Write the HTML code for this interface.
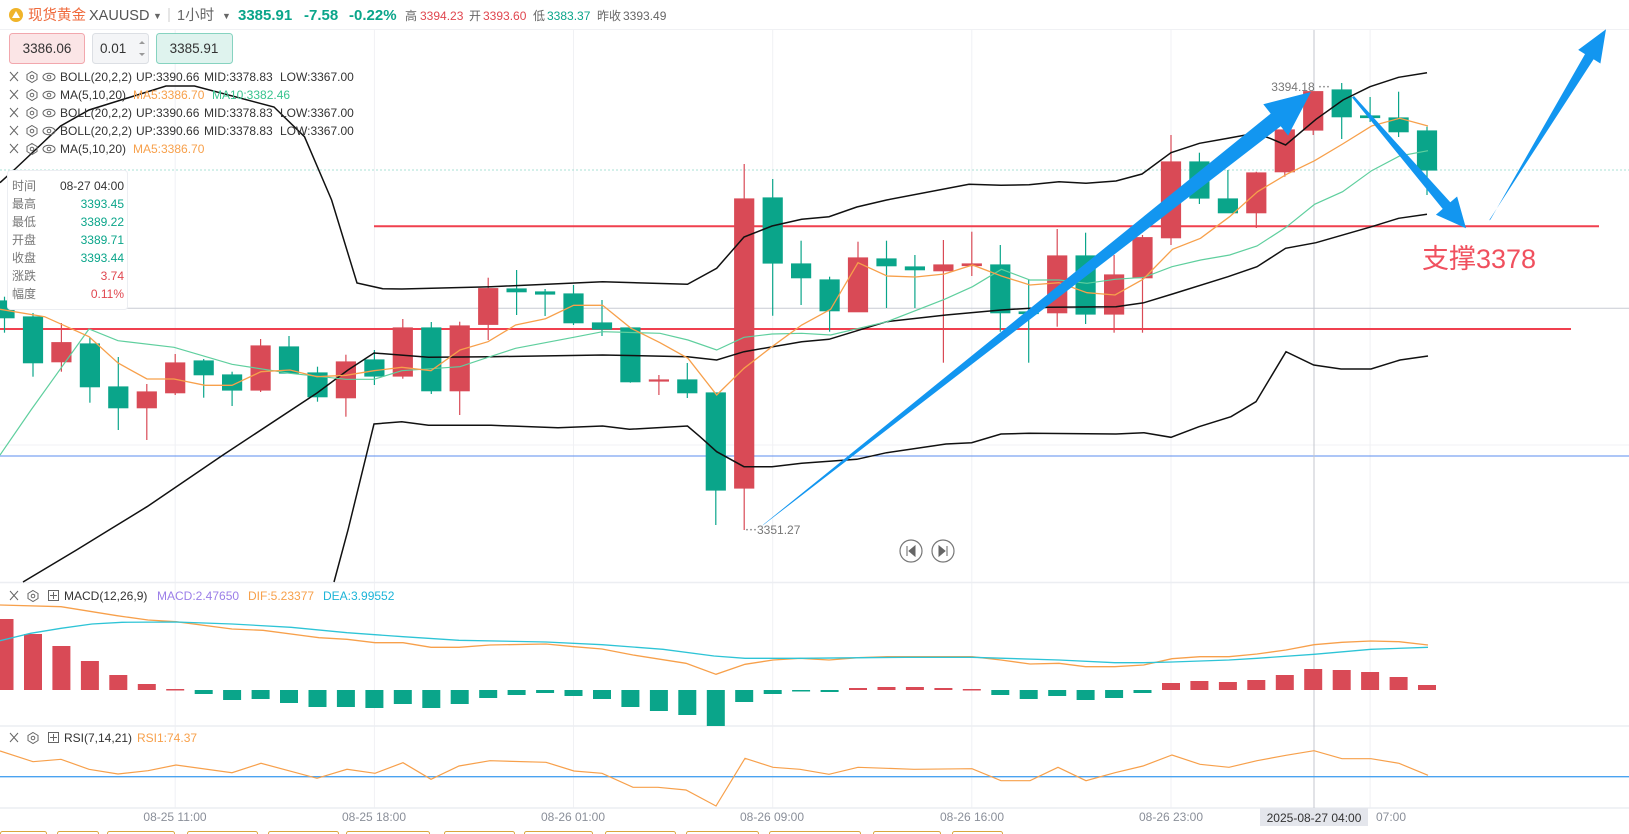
<!DOCTYPE html>
<html><head><meta charset="utf-8"><style>
html,body{margin:0;padding:0;background:#fff;overflow:hidden}
svg{display:block;font-family:"Liberation Sans","Noto Sans CJK SC",sans-serif}
</style></head><body>
<svg width="1629" height="834" viewBox="0 0 1629 834" xmlns="http://www.w3.org/2000/svg">
<rect width="1629" height="834" fill="#fff"/>
<line x1="0" y1="29.5" x2="1629" y2="29.5" stroke="#f0f1f4"/>
<circle cx="16" cy="15" r="7" fill="#f0b429"/>
<path d="M12 18 L16 11 L20 18 Z" fill="#fff"/>
<text x="28" y="20" font-size="14.5" fill="#ef6a3c">现货黄金</text>
<text x="89" y="20" font-size="14.5" fill="#555">XAUUSD</text>
<text x="153" y="19" font-size="9" fill="#666">▼</text>
<line x1="169" y1="8" x2="169" y2="22" stroke="#ccc"/>
<text x="177" y="20" font-size="14.5" fill="#666">1小时</text>
<text x="222" y="19" font-size="9" fill="#666">▼</text>
<text x="238" y="20" font-size="15" font-weight="bold" fill="#0aa58a">3385.91</text>
<text x="304" y="20" font-size="15" font-weight="bold" fill="#0aa58a">-7.58</text>
<text x="349" y="20" font-size="15" font-weight="bold" fill="#0aa58a">-0.22%</text>
<text x="405" y="20" font-size="12" fill="#666">高</text>
<text x="420" y="20" font-size="12" fill="#e0464f">3394.23</text>
<text x="469" y="20" font-size="12" fill="#666">开</text>
<text x="483" y="20" font-size="12" fill="#e0464f">3393.60</text>
<text x="533" y="20" font-size="12" fill="#666">低</text>
<text x="547" y="20" font-size="12" fill="#0aa58a">3383.37</text>
<text x="597" y="20" font-size="12" fill="#666">昨收</text>
<text x="623" y="20" font-size="12" fill="#666">3393.49</text>
<g stroke="#f0f1f4" stroke-width="1">
<line x1="175.2" y1="30" x2="175.2" y2="808"/><line x1="374.4" y1="30" x2="374.4" y2="808"/>
<line x1="573.5" y1="30" x2="573.5" y2="808"/><line x1="772.7" y1="30" x2="772.7" y2="808"/>
<line x1="971.8" y1="30" x2="971.8" y2="808"/><line x1="1171" y1="30" x2="1171" y2="808"/>
<line x1="1370.1" y1="30" x2="1370.1" y2="808"/>
<line x1="0" y1="445" x2="1629" y2="445"/>
</g>
<line x1="0" y1="582.5" x2="1629" y2="582.5" stroke="#eceef2" stroke-width="1.5"/>
<line x1="0" y1="726" x2="1629" y2="726" stroke="#eceef2" stroke-width="1.5"/>
<line x1="0" y1="808" x2="1629" y2="808" stroke="#eceef2" stroke-width="1.5"/>
<line x1="0" y1="170" x2="1629" y2="170" stroke="#a9e0d6" stroke-dasharray="2,2"/>
<line x1="0" y1="308.3" x2="1629" y2="308.3" stroke="#c8ccd4"/>
<line x1="0" y1="456" x2="1629" y2="456" stroke="#5b8def"/>
<line x1="1314" y1="30" x2="1314" y2="808" stroke="#c4c7cf"/>
<line x1="374" y1="226.3" x2="1599" y2="226.3" stroke="#f0404f" stroke-width="2"/>
<line x1="0" y1="329" x2="1571" y2="329" stroke="#f0404f" stroke-width="2"/>
<g stroke-width="1.2">
<g fill="#0aa58a" stroke="#0aa58a">
<line x1="4.5" y1="296.7" x2="4.5" y2="332.7"/><rect x="-5" y="301" width="19" height="16.7"/>
<line x1="33" y1="313" x2="33" y2="376.7"/><rect x="23.5" y="317" width="19" height="45.7"/>
<line x1="89.9" y1="337" x2="89.9" y2="402.7"/><rect x="80.4" y="344" width="19" height="42.7"/>
<line x1="118.3" y1="357" x2="118.3" y2="430"/><rect x="108.8" y="387" width="19" height="20.7"/>
<line x1="203.7" y1="359" x2="203.7" y2="397.7"/><rect x="194.2" y="361" width="19" height="13.7"/>
<line x1="232.1" y1="371.7" x2="232.1" y2="406"/><rect x="222.6" y="375" width="19" height="15"/>
<line x1="289" y1="336" x2="289" y2="373"/><rect x="279.5" y="347" width="19" height="26"/>
<line x1="317.5" y1="366.7" x2="317.5" y2="401.7"/><rect x="308" y="373" width="19" height="23.7"/>
<line x1="374.4" y1="350" x2="374.4" y2="385"/><rect x="364.9" y="360" width="19" height="16"/>
<line x1="431.3" y1="322" x2="431.3" y2="394"/><rect x="421.8" y="328" width="19" height="62.7"/>
<line x1="516.6" y1="270" x2="516.6" y2="315"/><rect x="507.1" y="289" width="19" height="2.7"/>
<line x1="545.1" y1="289" x2="545.1" y2="316"/><rect x="535.6" y="292" width="19" height="2"/>
<line x1="573.5" y1="285" x2="573.5" y2="325"/><rect x="564" y="294" width="19" height="28.7"/>
<line x1="602" y1="300" x2="602" y2="336"/><rect x="592.5" y="323" width="19" height="6"/>
<line x1="630.4" y1="328" x2="630.4" y2="382.7"/><rect x="620.9" y="328" width="19" height="53.7"/>
<line x1="687.3" y1="363" x2="687.3" y2="398"/><rect x="677.8" y="380" width="19" height="12.7"/>
<line x1="715.8" y1="393" x2="715.8" y2="525"/><rect x="706.3" y="393" width="19" height="97"/>
<line x1="772.7" y1="179" x2="772.7" y2="315.7"/><rect x="763.2" y="198" width="19" height="65"/>
<line x1="801.1" y1="240.7" x2="801.1" y2="305"/><rect x="791.6" y="264" width="19" height="13.7"/>
<line x1="829.6" y1="276.7" x2="829.6" y2="331.7"/><rect x="820.1" y="280" width="19" height="30.7"/>
<line x1="886.5" y1="240.7" x2="886.5" y2="308"/><rect x="877" y="259" width="19" height="6.7"/>
<line x1="914.9" y1="255" x2="914.9" y2="308"/><rect x="905.4" y="267" width="19" height="2.7"/>
<line x1="1000.3" y1="245" x2="1000.3" y2="331.7"/><rect x="990.8" y="265" width="19" height="47.7"/>
<line x1="1028.7" y1="280" x2="1028.7" y2="362.7"/><rect x="1019.2" y="312" width="19" height="1.5"/>
<line x1="1085.6" y1="232.7" x2="1085.6" y2="324"/><rect x="1076.1" y="256" width="19" height="58"/>
<line x1="1199.4" y1="152.7" x2="1199.4" y2="204"/><rect x="1189.9" y="162" width="19" height="36"/>
<line x1="1227.9" y1="170" x2="1227.9" y2="213"/><rect x="1218.4" y="199" width="19" height="13.7"/>
<line x1="1341.7" y1="83" x2="1341.7" y2="139"/><rect x="1332.2" y="90" width="19" height="26.7"/>
<line x1="1370.1" y1="97" x2="1370.1" y2="122"/><rect x="1360.6" y="116" width="19" height="1.5"/>
<line x1="1398.6" y1="91.7" x2="1398.6" y2="137"/><rect x="1389.1" y="118" width="19" height="13.7"/>
<line x1="1427" y1="126.7" x2="1427" y2="195"/><rect x="1417.5" y="131" width="19" height="39"/>
</g>
<g fill="#d94a56" stroke="#d94a56">
<line x1="61.4" y1="323" x2="61.4" y2="371.7"/><rect x="51.9" y="342.7" width="19" height="19"/>
<line x1="146.8" y1="384" x2="146.8" y2="440"/><rect x="137.3" y="392" width="19" height="15.7"/>
<line x1="175.2" y1="354" x2="175.2" y2="395"/><rect x="165.7" y="363" width="19" height="29.7"/>
<line x1="260.6" y1="339" x2="260.6" y2="392"/><rect x="251.1" y="346" width="19" height="44"/>
<line x1="345.9" y1="354.7" x2="345.9" y2="416.7"/><rect x="336.4" y="362" width="19" height="35.7"/>
<line x1="402.8" y1="319" x2="402.8" y2="378.7"/><rect x="393.3" y="328" width="19" height="48"/>
<line x1="459.7" y1="321.7" x2="459.7" y2="415"/><rect x="450.2" y="326" width="19" height="64.7"/>
<line x1="488.2" y1="277.7" x2="488.2" y2="340"/><rect x="478.7" y="288.7" width="19" height="35.6"/>
<line x1="658.9" y1="375" x2="658.9" y2="395"/><rect x="649.4" y="380" width="19" height="1"/>
<line x1="744.2" y1="164" x2="744.2" y2="530"/><rect x="734.7" y="199" width="19" height="289"/>
<line x1="858" y1="241.7" x2="858" y2="311.7"/><rect x="848.5" y="258" width="19" height="53.7"/>
<line x1="943.4" y1="240" x2="943.4" y2="362.7"/><rect x="933.9" y="265" width="19" height="5.7"/>
<line x1="971.8" y1="231.7" x2="971.8" y2="276"/><rect x="962.3" y="264" width="19" height="1.5"/>
<line x1="1057.2" y1="229" x2="1057.2" y2="326.7"/><rect x="1047.7" y="256" width="19" height="56.7"/>
<line x1="1114.1" y1="255" x2="1114.1" y2="332.7"/><rect x="1104.6" y="275" width="19" height="39"/>
<line x1="1142.5" y1="235" x2="1142.5" y2="332.7"/><rect x="1133" y="237.7" width="19" height="40"/>
<line x1="1171" y1="135" x2="1171" y2="245"/><rect x="1161.5" y="162" width="19" height="75.7"/>
<line x1="1256.3" y1="171.7" x2="1256.3" y2="228"/><rect x="1246.8" y="173" width="19" height="39.7"/>
<line x1="1284.8" y1="123" x2="1284.8" y2="176.7"/><rect x="1275.3" y="130" width="19" height="41.7"/>
<line x1="1313.2" y1="91.7" x2="1313.2" y2="135"/><rect x="1303.7" y="91.7" width="19" height="38.3"/>
</g>
</g>
<g fill="none" stroke="#111" stroke-width="1.5">
<polyline points="0,182.7 14,170 60.6,126 89,110 166,86 194.5,86 274,107 304.5,136.7 331.6,200 357,283 382.7,288.7 401.8,289 491,286.7 602.6,281.7 687.5,284.3 716.7,268.3 744,237 772,226 801.7,219.3 829,216.7 856.8,207 886.6,200 969,184.3 1001,185.3 1029,184.7 1059,181.7 1086,183.3 1116,181 1142,174 1171,152.7 1199.5,143.3 1228,138.3 1255,133.3 1270,138.3 1285.6,145 1316,119.3 1343,100 1370,86.7 1398.6,77.3 1427,72.7"/>
<polyline points="23,582 76.5,550 109,530 147,506.7 223,455 317,393 348,370 374,353 428.5,357.3 491,356.7 602.6,355 687.5,356.7 716.7,360 744,351.7 801.7,341.7 829,339.3 886.6,321.7 946,315 1001,310 1047,307.3 1116,306.7 1144,302.7 1172.5,294 1228,276.7 1257,266.7 1285.6,248.3 1316,242.7 1371.6,226.7 1398.6,218.3 1427,214.3"/>
<polyline points="334,582 348,530 374,424 401.8,421.7 428.5,425.3 491,425.3 558,427.7 602.6,426 629.4,429.3 687.5,426 700,436.7 716.7,451.7 744,466.7 772,466.7 801.7,463.3 856.8,459.3 886.6,452.7 946,444 971.6,442.7 1001,434 1029,433.3 1116,434 1144,432.7 1171,437.3 1199,426.7 1231,416.7 1256,401.7 1286,351.7 1313.7,365 1341,369 1371,369 1400,360 1428,356"/>
</g>
<polyline fill="none" stroke="#5fcf9e" stroke-width="1.2" points="0,455 31,410 89,329 118,340.7 174,347.3 232,364.3 290,373.3 346,379.3 374,379.3 401.8,370.7 460,366.7 488,357.3 515.6,348.3 573.6,337.3 602.6,331.7 660,333.3 688,340 716.7,350 744,337.3 772,334 801.7,333.3 830.6,335 887,321.7 944.5,299.3 972.5,286.7 1001.4,269.3 1030,280 1059,280 1087,283.3 1115,279.3 1144,277.3 1172,266.7 1200.7,260 1229.7,255 1257,246 1286,227.3 1314.6,204.3 1342.6,191.7 1371.6,170.7 1399.6,156 1428,150.7"/>
<polyline fill="none" stroke="#f7a04b" stroke-width="1.3" points="0,309.3 44.6,316.7 89,336.7 118,363 147,379 174,379 205,385.3 232,385.3 261,371.7 290,370 317,376.7 346,375.3 374,370.7 401.8,367.3 431,370.7 460,350 488,341.7 515.6,325 545.5,318.7 573.6,305.3 602.6,305.3 631,328.3 660,342.7 688,358.3 716.7,395 744,368.3 772,346.7 801.7,325 830.6,309.3 858,262.7 887,276 915.6,277 944.5,274 972.5,265 1001.4,276 1030,285 1059,282.7 1087,292.7 1115,295 1143,279.3 1172.5,249.3 1200.5,238.3 1229.6,216.7 1257.6,191.7 1286.6,174.3 1314.6,160.7 1342.6,144 1371.6,126 1399.6,118.3 1428,126"/>
<g fill="#1296f0">
<polygon points="762,526 764,524 1270.7,113.6 1263.3,104.2 1311,92 1288.1,135.6 1280.7,126.2"/>
<polygon points="1352,97.5 1354,96 1450.3,202.3 1457.1,196.5 1466,228.3 1435.9,214.7 1442.7,208.9"/>
<polygon points="1489,220.5 1490.5,219.5 1585,54.1 1578.2,49.9 1606,29.3 1600.4,63.5 1593.6,59.3"/>
</g>
<text x="1422" y="268" font-size="27" fill="#f0505e">支撑3378</text>
<text x="1330" y="91" font-size="12" fill="#777" text-anchor="end">3394.18 ⋯</text>
<text x="745" y="534" font-size="12" fill="#777">⋯3351.27</text>
<g fill="#fff" stroke="#777" stroke-width="1.2">
<circle cx="911" cy="551" r="11"/><circle cx="943" cy="551" r="11"/>
</g>
<path d="M907 546v10M915 546l-6 5 6 5z" fill="#666" stroke="#666"/>
<path d="M947 546v10M939 546l6 5-6 5z" fill="#666" stroke="#666"/>
<rect x="9.5" y="33.5" width="75" height="30" rx="3" fill="#fbe5e6" stroke="#f2a7ad"/>
<text x="47" y="53" font-size="13.5" fill="#333" text-anchor="middle">3386.06</text>
<rect x="92.5" y="33.5" width="56" height="30" rx="3" fill="#f4f5f7" stroke="#dcdfe4"/>
<text x="100" y="53" font-size="13.5" fill="#333">0.01</text>
<path d="M139 44l3-3 3 3z M139 53l3 3 3-3z" fill="#999"/>
<rect x="156.5" y="33.5" width="76" height="30" rx="3" fill="#dff3ee" stroke="#86d3c0"/>
<text x="194" y="53" font-size="13.5" fill="#333" text-anchor="middle">3385.91</text>
<g font-size="12" fill="#333">
<text x="60" y="81">BOLL(20,2,2)</text><text x="136" y="81">UP:3390.66</text><text x="204" y="81">MID:3378.83</text><text x="280" y="81">LOW:3367.00</text>
<text x="60" y="99">MA(5,10,20)</text><text x="133" y="99" fill="#f7a04b">MA5:3386.70</text><text x="212" y="99" fill="#39c48f">MA10:3382.46</text>
<text x="60" y="117">BOLL(20,2,2)</text><text x="136" y="117">UP:3390.66</text><text x="204" y="117">MID:3378.83</text><text x="280" y="117">LOW:3367.00</text>
<text x="60" y="135">BOLL(20,2,2)</text><text x="136" y="135">UP:3390.66</text><text x="204" y="135">MID:3378.83</text><text x="280" y="135">LOW:3367.00</text>
<text x="60" y="153">MA(5,10,20)</text><text x="133" y="153" fill="#f7a04b">MA5:3386.70</text>
</g>
<g stroke="#666" stroke-width="1" fill="none">
<path d="M10 72l8 9M18 72l-8 9M10 90l8 9M18 90l-8 9M10 108l8 9M18 108l-8 9M10 126l8 9M18 126l-8 9M10 144l8 9M18 144l-8 9"/>
<path d="M32 71.5l5 3v5l-5 3-5-3v-5zM32 89.5l5 3v5l-5 3-5-3v-5zM32 107.5l5 3v5l-5 3-5-3v-5zM32 125.5l5 3v5l-5 3-5-3v-5zM32 143.5l5 3v5l-5 3-5-3v-5z"/>
<circle cx="32" cy="77" r="1.8"/><circle cx="32" cy="95" r="1.8"/><circle cx="32" cy="113" r="1.8"/><circle cx="32" cy="131" r="1.8"/><circle cx="32" cy="149" r="1.8"/>
<ellipse cx="49" cy="77" rx="6" ry="3.8"/><ellipse cx="49" cy="95" rx="6" ry="3.8"/><ellipse cx="49" cy="113" rx="6" ry="3.8"/><ellipse cx="49" cy="131" rx="6" ry="3.8"/><ellipse cx="49" cy="149" rx="6" ry="3.8"/>
<circle cx="49" cy="77" r="1.8"/><circle cx="49" cy="95" r="1.8"/><circle cx="49" cy="113" r="1.8"/><circle cx="49" cy="131" r="1.8"/><circle cx="49" cy="149" r="1.8"/>
</g>
<rect x="7.5" y="170.5" width="120" height="139" rx="3" fill="#fff" stroke="#eceef2"/>
<g font-size="12">
<text x="12" y="190" fill="#777">时间</text><text x="124" y="190" fill="#333" text-anchor="end">08-27 04:00</text>
<text x="12" y="208" fill="#777">最高</text><text x="124" y="208" fill="#0aa58a" text-anchor="end">3393.45</text>
<text x="12" y="226" fill="#777">最低</text><text x="124" y="226" fill="#0aa58a" text-anchor="end">3389.22</text>
<text x="12" y="244" fill="#777">开盘</text><text x="124" y="244" fill="#0aa58a" text-anchor="end">3389.71</text>
<text x="12" y="262" fill="#777">收盘</text><text x="124" y="262" fill="#0aa58a" text-anchor="end">3393.44</text>
<text x="12" y="280" fill="#777">涨跌</text><text x="124" y="280" fill="#e0464f" text-anchor="end">3.74</text>
<text x="12" y="298" fill="#777">幅度</text><text x="124" y="298" fill="#e0464f" text-anchor="end">0.11%</text>
</g>
<g fill="#d94a56">
<rect x="-4.5" y="619" width="18" height="71"/><rect x="24" y="634" width="18" height="56"/><rect x="52.4" y="646" width="18" height="44"/>
<rect x="80.9" y="661" width="18" height="29"/><rect x="109.3" y="675" width="18" height="15"/><rect x="137.8" y="684" width="18" height="6"/>
<rect x="166.2" y="689" width="18" height="1.5"/>
<rect x="849" y="688" width="18" height="2"/><rect x="877.5" y="687" width="18" height="3"/><rect x="905.9" y="687" width="18" height="3"/>
<rect x="934.4" y="688" width="18" height="2"/><rect x="962.8" y="689" width="18" height="1.5"/>
<rect x="1162" y="683" width="18" height="7"/><rect x="1190.4" y="681" width="18" height="9"/><rect x="1218.9" y="682" width="18" height="8"/>
<rect x="1247.3" y="680" width="18" height="10"/><rect x="1275.8" y="675" width="18" height="15"/><rect x="1304.2" y="669" width="18" height="21"/>
<rect x="1332.7" y="670" width="18" height="20"/><rect x="1361.1" y="672" width="18" height="18"/><rect x="1389.6" y="677" width="18" height="13"/>
<rect x="1418" y="685" width="18" height="5"/>
</g>
<g fill="#0aa58a">
<rect x="194.7" y="690" width="18" height="4"/><rect x="223.1" y="690" width="18" height="10"/><rect x="251.6" y="690" width="18" height="9"/>
<rect x="280" y="690" width="18" height="13"/><rect x="308.5" y="690" width="18" height="17"/><rect x="336.9" y="690" width="18" height="17"/>
<rect x="365.4" y="690" width="18" height="18"/><rect x="393.8" y="690" width="18" height="14"/><rect x="422.3" y="690" width="18" height="18"/>
<rect x="450.7" y="690" width="18" height="14"/><rect x="479.2" y="690" width="18" height="8"/><rect x="507.6" y="690" width="18" height="5"/>
<rect x="536.1" y="690" width="18" height="3"/><rect x="564.5" y="690" width="18" height="6"/><rect x="593" y="690" width="18" height="9"/>
<rect x="621.4" y="690" width="18" height="17"/><rect x="649.9" y="690" width="18" height="21"/><rect x="678.3" y="690" width="18" height="25"/>
<rect x="706.8" y="690" width="18" height="36"/><rect x="735.2" y="690" width="18" height="12"/><rect x="763.7" y="690" width="18" height="4"/>
<rect x="792.1" y="690" width="18" height="1.5"/><rect x="820.6" y="690" width="18" height="2"/>
<rect x="991.3" y="690" width="18" height="5"/><rect x="1019.7" y="690" width="18" height="9"/><rect x="1048.2" y="690" width="18" height="6"/>
<rect x="1076.6" y="690" width="18" height="10"/><rect x="1105.1" y="690" width="18" height="8"/><rect x="1133.5" y="690" width="18" height="3"/>
</g>
<polyline fill="none" stroke="#f7a04b" stroke-width="1.3" points="0,605 61,606.7 117,615.7 148,620 176,621.7 232,629 263,630.3 319,637.7 347,639.3 375,642.7 403,642.7 431,647.3 459,647.3 490,645 546,644 574,646.7 602,649 633,655 686,663.3 716,674.3 745,664.3 773,660 800,658.3 829,660 858,657.7 887,656.7 972,656.7 1001,660 1030,664 1059,663.3 1085.5,666.7 1114.6,666.7 1143.7,665 1172,658.7 1200,656.7 1229,656.7 1257,654 1286,650 1314,644.7 1342,642.3 1371,641 1399,641.7 1428,645"/>
<polyline fill="none" stroke="#2ec4d6" stroke-width="1.3" points="0,640.7 30.6,633.3 61,628.3 92,624 122,622.3 176,622 232,624 291,627.3 347,632.7 403,636.7 459,640.3 546,642 602,644.7 663,649.3 714,656 745,658.3 800,658.3 906,657.3 972,657.3 1059,660 1114.6,662.7 1143.7,662.7 1172,662 1229,660 1257,658.3 1314,654.3 1371,649.3 1428,647.3"/>
<g font-size="12">
<text x="64" y="600" fill="#333">MACD(12,26,9)</text>
<text x="157" y="600" fill="#9b7ee8">MACD:2.47650</text>
<text x="248" y="600" fill="#f7a04b">DIF:5.23377</text>
<text x="323" y="600" fill="#1cb4d8">DEA:3.99552</text>
<text x="64" y="742" fill="#333">RSI(7,14,21)</text>
<text x="137" y="742" fill="#f7a04b">RSI1:74.37</text>
</g>
<g stroke="#666" fill="none" stroke-width="1">
<path d="M10 591l8 9M18 591l-8 9M10 733l8 9M18 733l-8 9"/>
<path d="M33 590.5l5 3v5l-5 3-5-3v-5zM33 732.5l5 3v5l-5 3-5-3v-5z"/>
<circle cx="33" cy="596" r="1.8"/><circle cx="33" cy="738" r="1.8"/>
<rect x="48.5" y="590.5" width="10" height="10"/><path d="M53.5 592v7M50 595.5h7"/>
<rect x="48.5" y="732.5" width="10" height="10"/><path d="M53.5 734v7M50 737.5h7"/>
</g>
<line x1="0" y1="776.7" x2="1629" y2="776.7" stroke="#4aa3f0" stroke-width="1.3"/>
<polyline fill="none" stroke="#f7a04b" stroke-width="1.2" points="0,751 33,761.7 61,759.3 89,769.3 118,774 148,770.7 176,765 232,772.7 261,763.3 317,778.3 347,769.3 375,773.3 403,762.7 431,779.3 459,766 490,760.7 546,762.3 574,771 602,773.3 633,787.3 658,787.3 686,790 716,806 745,758.3 773,767.3 800,769.3 829,774.3 858,767.3 914,769.3 972,768.7 1001,780.7 1030,780.7 1058,767.3 1086,780.7 1115,772.7 1143,766 1172,755 1200,764.3 1229,767.3 1257,760.7 1286,755.3 1314,750.7 1342,758.7 1371,758.7 1399,763.3 1428,775.3"/>
<g font-size="12" fill="#8a8f99" text-anchor="middle">
<text x="175" y="821">08-25 11:00</text><text x="374" y="821">08-25 18:00</text>
<text x="573" y="821">08-26 01:00</text><text x="772" y="821">08-26 09:00</text>
<text x="972" y="821">08-26 16:00</text><text x="1171" y="821">08-26 23:00</text>
<text x="1391" y="821">07:00</text>
</g>
<rect x="1260" y="808" width="108" height="18" fill="#e4e6ec"/>
<text x="1314" y="822" font-size="12" fill="#333" text-anchor="middle">2025-08-27 04:00</text>
<g fill="#fff" stroke="#d9a640" stroke-width="1">
<rect x="0.5" y="831.5" width="46" height="10" rx="2"/><rect x="57.5" y="831.5" width="41" height="10" rx="2"/>
<rect x="107.5" y="831.5" width="67" height="10" rx="2"/><rect x="187.5" y="831.5" width="70" height="10" rx="2"/>
<rect x="268.5" y="831.5" width="70" height="10" rx="2"/><rect x="346.5" y="831.5" width="83" height="10" rx="2"/>
<rect x="444.5" y="831.5" width="70" height="10" rx="2"/><rect x="524.5" y="831.5" width="68" height="10" rx="2"/>
<rect x="605.5" y="831.5" width="70" height="10" rx="2"/><rect x="686.5" y="831.5" width="72" height="10" rx="2"/>
<rect x="769.5" y="831.5" width="91" height="10" rx="2"/><rect x="873.5" y="831.5" width="67" height="10" rx="2"/>
<rect x="952.5" y="831.5" width="50" height="10" rx="2"/>
</g>
</svg>
</body></html>
